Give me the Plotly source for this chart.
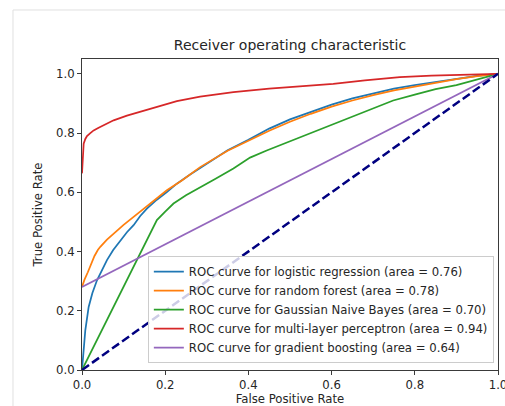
import plotly.graph_objects as go

# ---- data ----
lr_fpr = [0, 0.004, 0.008, 0.016, 0.025, 0.036, 0.048, 0.06, 0.075, 0.092, 0.108, 0.124, 0.14, 0.156, 0.18,
          0.204, 0.228, 0.26, 0.3, 0.35, 0.4, 0.45, 0.5, 0.55, 0.6, 0.65, 0.7, 0.75, 0.8, 0.85, 0.9, 0.95, 1.0]
lr_tpr = [0, 0.07, 0.135, 0.213, 0.26, 0.303, 0.34, 0.371, 0.405, 0.438, 0.465, 0.489, 0.52, 0.545, 0.575,
          0.601, 0.629, 0.66, 0.697, 0.742, 0.777, 0.815, 0.846, 0.872, 0.896, 0.917, 0.934, 0.95, 0.962, 0.973, 0.984, 0.993, 1.0]

rf_fpr = [0, 0.006, 0.014, 0.022, 0.03, 0.038, 0.044, 0.06, 0.084, 0.1, 0.124, 0.144, 0.164, 0.184, 0.204,
          0.24, 0.284, 0.35, 0.4, 0.45, 0.5, 0.55, 0.6, 0.65, 0.7, 0.75, 0.8, 0.85, 0.9, 0.95, 1.0]
rf_tpr = [0.28, 0.305, 0.33, 0.36, 0.385, 0.405, 0.416, 0.44, 0.472, 0.49, 0.517, 0.54, 0.562, 0.585, 0.607,
          0.64, 0.685, 0.74, 0.773, 0.808, 0.838, 0.865, 0.889, 0.91, 0.928, 0.944, 0.957, 0.97, 0.982, 0.992, 1.0]

nb_fpr = [0, 0.18, 0.2, 0.22, 0.25, 0.284, 0.32, 0.364, 0.404, 0.444, 0.524, 0.604, 0.644, 0.7, 0.748,
          0.8, 0.85, 0.9, 0.95, 1.0]
nb_tpr = [0, 0.506, 0.535, 0.562, 0.59, 0.618, 0.645, 0.68, 0.717, 0.741, 0.786, 0.831, 0.854, 0.885, 0.91,
          0.93, 0.948, 0.962, 0.98, 1.0]

mlp_fpr = [0, 0.002, 0.004, 0.008, 0.012, 0.02, 0.028, 0.04, 0.052, 0.076, 0.108, 0.148, 0.188, 0.228,
           0.284, 0.364, 0.45, 0.52, 0.604, 0.68, 0.764, 0.84, 0.924, 1.0]
mlp_tpr = [0.664, 0.72, 0.764, 0.78, 0.79, 0.8, 0.809, 0.818, 0.826, 0.843, 0.859, 0.876, 0.893, 0.908,
           0.923, 0.938, 0.95, 0.958, 0.966, 0.978, 0.989, 0.994, 0.998, 1.0]

gb_fpr = [0, 1.0]
gb_tpr = [0.28, 1.0]

chance = [0, 1]

labels = [
    "ROC curve for logistic regression (area = 0.76)",
    "ROC curve for random forest (area = 0.78)",
    "ROC curve for Gaussian Naive Bayes (area = 0.70)",
    "ROC curve for multi-layer perceptron (area = 0.94)",
    "ROC curve for gradient boosting (area = 0.64)",
]
colors = ["#1f77b4", "#ff7f0e", "#2ca02c", "#d62728", "#9467bd"]
series = [(lr_fpr, lr_tpr), (rf_fpr, rf_tpr), (nb_fpr, nb_tpr), (mlp_fpr, mlp_tpr), (gb_fpr, gb_tpr)]
tick_vals = [0, 0.2, 0.4, 0.6, 0.8, 1.0]
tick_text = ["0.0", "0.2", "0.4", "0.6", "0.8", "1.0"]

FONT = "DejaVu Sans"
FS = 11.7
TXT = "#262626"
fig = go.Figure()
for (xs, ys), lab, c in zip(series, labels, colors):
    fig.add_trace(go.Scatter(x=xs, y=ys, mode="lines", name=lab,
                             line=dict(color=c, width=1.75)))
fig.add_trace(go.Scatter(x=chance, y=chance, mode="lines", showlegend=False,
                         line=dict(color="#000080", width=2.5, dash="8.6px,3.7px")))

axis_common = dict(showline=True, linecolor="#3a3a3a", linewidth=1, mirror=True,
                   ticks="outside", ticklen=4, tickcolor="#3a3a3a", showgrid=False, zeroline=False,
                   tickfont=dict(family=FONT, size=FS, color=TXT), ticklabeloverflow="allow",
                   layer="above traces", automargin=False)
fig.update_xaxes(range=[0, 1.0], tickvals=tick_vals, ticktext=tick_text,
                 title=dict(text="False Positive Rate", font=dict(family=FONT, size=FS, color=TXT),
                            standoff=4),
                 **axis_common)
fig.update_yaxes(range=[0, 1.05], tickvals=tick_vals, ticktext=tick_text,
                 title=dict(text="True Positive Rate", font=dict(family=FONT, size=FS, color=TXT),
                            standoff=10),
                 **axis_common)

# notebook cell border lines
fig.add_shape(type="line", xref="paper", yref="paper", x0=-0.1659, x1=-0.1659, y0=1.1576, y1=-0.13,
              line=dict(color="#e0e0e0", width=1))
fig.add_shape(type="line", xref="paper", yref="paper", x0=-0.1659, x1=1.03, y0=1.1576, y1=1.1576,
              line=dict(color="#e0e0e0", width=1))

fig.update_layout(
    width=505, height=406,
    margin=dict(l=82, r=7, t=59, b=36),
    paper_bgcolor="white", plot_bgcolor="white",
    title=dict(text="Receiver operating characteristic", x=0.5, xref="paper", y=1 - 45 / 406,
               yanchor="middle", xanchor="center",
               font=dict(family=FONT, size=14, color=TXT)),
    legend=dict(x=0.99, y=0.022, xanchor="right", yanchor="bottom",
                bgcolor="rgba(255,255,255,0.8)", bordercolor="#cccccc", borderwidth=1,
                font=dict(family=FONT, size=FS, color=TXT), itemwidth=30, tracegroupgap=0),
    showlegend=True,
)
fig.write_html("out.html", config={"displayModeBar": False},
               post_script="document.body.style.margin='0px';")
